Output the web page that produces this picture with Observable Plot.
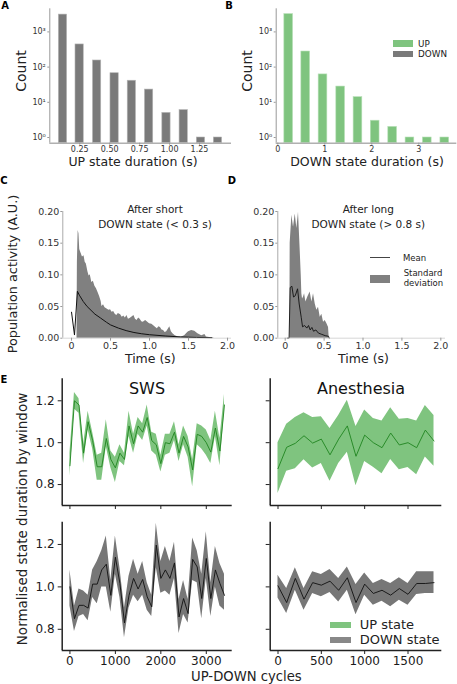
<!DOCTYPE html>
<html><head><meta charset="utf-8">
<script src="https://cdn.jsdelivr.net/npm/d3@7"></script>
<script src="https://cdn.jsdelivr.net/npm/@observablehq/plot@0.6"></script>
<style>
html,body{margin:0;padding:0;background:#fff;}
#fig{position:relative;width:457px;height:684px;overflow:hidden;font-family:"DejaVu Sans",sans-serif;color:#222;background:#fff;}
#fig svg{position:absolute;left:0;top:0;}
.t{position:absolute;white-space:nowrap;line-height:1;}
.sw{position:absolute;}
</style></head><body><div id="fig"></div>
<script>
// ---------- DATA ----------
// Panel A: UP state duration histogram (log counts)
const aBinCenters = [0.110, 0.249, 0.395, 0.541, 0.685, 0.829, 0.974, 1.118, 1.262, 1.404];
const aCounts = [3100, 440, 154, 67, 41, 23, 5, 6, 1, 1];
const aXTicks = [0.25, 0.5, 0.75, 1.0, 1.25];
// Panel B: DOWN state duration histogram
const bBinCenters = [0.232, 0.594, 0.962, 1.338, 1.706, 2.072, 2.444, 2.812, 3.181, 3.553];
const bCounts = [3200, 277, 62, 28, 14, 3, 2, 1, 1, 1];
const bXTicks = [0, 1, 2, 3];
const logTicks = [1, 10, 100, 1000];
// Panel C: after short DOWN state
const cMeanT = [0.0, 0.038, 0.075, 0.1, 0.15, 0.2, 0.25, 0.3, 0.37, 0.45, 0.5, 0.6, 0.7, 0.8, 0.9, 1.0, 1.2, 1.4, 1.6, 1.8];
const cMeanV = [0.041, 0.005, 0.074, 0.068, 0.058, 0.050, 0.044, 0.038, 0.032, 0.025, 0.021, 0.016, 0.012, 0.009, 0.007, 0.0055, 0.0035, 0.002, 0.0012, 0.0008];
const cUpperT = [0.07, 0.075, 0.085, 0.095, 0.105, 0.12, 0.14, 0.16, 0.175, 0.19, 0.21, 0.225, 0.24, 0.26, 0.28, 0.3, 0.32, 0.34, 0.36, 0.38, 0.39, 0.41, 0.43, 0.455, 0.48, 0.5, 0.52, 0.54, 0.56, 0.58, 0.6, 0.63, 0.65, 0.67, 0.69, 0.71, 0.73, 0.75, 0.78, 0.8, 0.82, 0.84, 0.86, 0.88, 0.9, 0.92, 0.95, 0.97, 1.0, 1.03, 1.05, 1.08, 1.1, 1.12, 1.14, 1.16, 1.18, 1.2, 1.22, 1.24, 1.26, 1.28, 1.3, 1.33, 1.37, 1.41, 1.45, 1.48, 1.5, 1.54, 1.58, 1.62, 1.67, 1.71, 1.73, 1.77, 1.84];
const cUpperV = [0, 0.12, 0.17, 0.165, 0.14, 0.135, 0.128, 0.13, 0.12, 0.117, 0.105, 0.098, 0.1, 0.088, 0.09, 0.082, 0.078, 0.072, 0.066, 0.058, 0.05, 0.053, 0.048, 0.046, 0.044, 0.045, 0.041, 0.042, 0.038, 0.036, 0.039, 0.037, 0.033, 0.035, 0.032, 0.036, 0.03, 0.031, 0.034, 0.036, 0.03, 0.028, 0.032, 0.03, 0.026, 0.025, 0.028, 0.026, 0.023, 0.022, 0.02, 0.017, 0.015, 0.018, 0.017, 0.013, 0.012, 0.009, 0.01, 0.014, 0.018, 0.01, 0.007, 0.004, 0.002, 0.002, 0.004, 0.008, 0.01, 0.012, 0.011, 0.007, 0.004, 0.006, 0.002, 0.001, 0];
// Panel D: after long DOWN state
const dMeanT = [0.026, 0.05, 0.064, 0.086, 0.107, 0.129, 0.159, 0.18, 0.206, 0.223, 0.249, 0.278, 0.3, 0.321, 0.343, 0.364, 0.394, 0.428, 0.471, 0.514, 0.557, 0.566];
const dMeanV = [0, 0, 0.08, 0.082, 0.065, 0.067, 0.078, 0.054, 0.033, 0.018, 0.02, 0.016, 0.02, 0.013, 0.017, 0.011, 0.013, 0.008, 0.006, 0.004, 0.003, 0];
const dUpperT = [0.06, 0.064, 0.086, 0.107, 0.129, 0.15, 0.171, 0.193, 0.206, 0.214, 0.223, 0.236, 0.249, 0.266, 0.291, 0.321, 0.343, 0.364, 0.386, 0.407, 0.428, 0.45, 0.471, 0.493, 0.514, 0.536, 0.557, 0.566];
const dUpperV = [0, 0.15, 0.194, 0.175, 0.196, 0.173, 0.199, 0.138, 0.1, 0.07, 0.062, 0.065, 0.07, 0.057, 0.065, 0.073, 0.057, 0.07, 0.054, 0.044, 0.049, 0.033, 0.038, 0.025, 0.028, 0.023, 0.017, 0];
const cdXTicks = [0, 0.5, 1, 1.5, 2];
const cdYTicks = [0, 0.05, 0.1, 0.15, 0.2];
// Panel E: normalised state duration by window
const swsCycles = [0,100,200,300,400,500,600,700,800,900,1000,1100,1200,1300,1400,1500,1600,1700,1800,1900,2000,2100,2200,2300,2400,2500,2600,2700,2800,2900,3000,3100,3200,3300,3400];
const swsUpMean = [0.89, 1.20, 1.18, 0.95, 1.10, 1.01, 0.885, 0.885, 1.02, 0.92, 0.88, 0.95, 0.92, 1.08, 0.995, 1.08, 1.05, 1.12, 1.01, 0.99, 0.90, 1.00, 0.995, 1.05, 0.95, 1.03, 0.98, 0.87, 1.04, 1.03, 1.00, 0.955, 1.07, 0.96, 1.18];
const swsUpLow = [0.84, 1.16, 1.14, 0.90, 1.06, 0.97, 0.82, 0.82, 0.98, 0.88, 0.81, 0.91, 0.89, 1.03, 0.95, 1.04, 1.01, 1.08, 0.96, 0.94, 0.86, 0.94, 0.95, 1.01, 0.91, 0.99, 0.93, 0.79, 0.99, 0.97, 0.94, 0.90, 1.03, 0.89, 1.15];
const swsUpHigh = [0.95, 1.24, 1.21, 0.99, 1.15, 1.05, 0.94, 0.95, 1.11, 0.96, 0.93, 0.99, 0.95, 1.15, 1.04, 1.12, 1.09, 1.18, 1.05, 1.04, 0.94, 1.04, 1.04, 1.10, 0.99, 1.08, 1.03, 0.92, 1.09, 1.08, 1.06, 1.01, 1.15, 1.02, 1.23];
const swsDownMean = [1.0, 0.85, 0.913, 0.913, 0.90, 1.013, 1.013, 1.08, 1.107, 0.96, 1.14, 1.016, 0.83, 0.96, 1.04, 0.99, 1.035, 0.953, 0.906, 1.197, 1.04, 1.08, 1.04, 1.113, 0.858, 0.945, 0.874, 1.13, 1.094, 0.945, 1.134, 0.945, 1.08, 1.016, 0.96];
const swsDownLow = [0.91, 0.79, 0.86, 0.87, 0.84, 0.95, 0.92, 1.00, 1.00, 0.88, 1.06, 0.95, 0.76, 0.90, 0.96, 0.93, 0.96, 0.89, 0.86, 1.09, 0.97, 0.98, 0.96, 1.04, 0.78, 0.87, 0.83, 1.03, 1.02, 0.85, 1.04, 0.86, 1.0, 0.91, 0.89];
const swsDownHigh = [1.08, 0.91, 0.99, 0.98, 0.96, 1.08, 1.12, 1.17, 1.24, 1.03, 1.24, 1.09, 0.90, 1.05, 1.13, 1.06, 1.12, 1.02, 0.96, 1.30, 1.12, 1.19, 1.12, 1.21, 0.94, 1.03, 0.94, 1.23, 1.17, 1.06, 1.26, 1.02, 1.19, 1.11, 1.06];
const anCycles = [0,100,200,300,400,500,600,700,800,900,1000,1100,1200,1300,1400,1500,1600,1700,1800];
const anUpMean = [0.876, 0.978, 0.997, 1.033, 0.998, 1.017, 0.942, 1.017, 1.08, 0.935, 1.036, 1.0, 0.976, 1.046, 0.989, 1.0, 0.976, 1.06, 1.008];
const anUpHigh = [1.0, 1.088, 1.12, 1.143, 1.12, 1.124, 1.068, 1.13, 1.203, 1.077, 1.156, 1.115, 1.104, 1.167, 1.112, 1.115, 1.104, 1.178, 1.13];
const anUpLow = [0.757, 0.863, 0.876, 0.918, 0.879, 0.9, 0.816, 0.9, 0.954, 0.794, 0.91, 0.883, 0.852, 0.92, 0.871, 0.882, 0.847, 0.931, 0.888];
const anDownMean = [1.005, 0.926, 1.04, 0.942, 1.02, 1.008, 1.027, 0.984, 1.043, 0.926, 1.013, 0.969, 0.984, 0.961, 0.992, 0.965, 1.016, 1.016, 1.02];
const anDownHigh = [1.055, 0.992, 1.09, 0.992, 1.071, 1.058, 1.082, 1.04, 1.094, 1.011, 1.066, 1.016, 1.035, 1.016, 1.043, 1.016, 1.071, 1.071, 1.071];
const anDownLow = [0.948, 0.874, 0.984, 0.89, 0.969, 0.953, 0.973, 0.929, 0.984, 0.869, 0.961, 0.913, 0.932, 0.906, 0.937, 0.913, 0.964, 0.969, 0.969];
const swsXTicks = [0, 1000, 2000, 3000];
const anXTicks = [0, 500, 1000, 1500];
const eYTicks = [0.8, 1.0, 1.2];

// ---------- STYLE ----------
const W = 457, H = 684;
const GREEN = "#7fc47f", GREY = "#7a7a7a", GREEN_LINE = "#1f841f";
const aBarW = 0.069, bBarW = 0.185;
const logDomain = [0.689, 4530];
const aXDomain = [0, 1.517], bXDomain = [-0.034, 3.809];
const cXDomain = [-0.112, 2.051], dXDomain = [-0.095, 2.06], cdYDomain = [0, 0.2];
const swsXDomain = [-170, 3570], anXDomain = [-90, 1890], eYDomain = [0.7, 1.305];

const fig = document.getElementById("fig");
function addPlot(p) {
  const svg = Plot.plot({
    width: W, height: H,
    marginLeft: p.left, marginRight: W - p.right, marginTop: p.top, marginBottom: H - p.bottom,
    style: {background: "transparent", fontFamily: "DejaVu Sans", fontSize: "10px", color: "#222", overflow: "visible"},
    x: {domain: p.xDomain, type: "linear"},
    y: {domain: p.yDomain, type: p.yType || "linear"},
    marks: p.marks
  });
  fig.appendChild(svg);
}
function txt(s, x, y, o = {}) {
  const {size = 10, anchor = "middle", rotate = 0, weight = "normal", color = "#222"} = o;
  const d = document.createElement("div");
  d.className = "t"; d.textContent = s;
  d.style.left = x + "px"; d.style.top = y + "px";
  d.style.fontSize = size + "px"; d.style.fontWeight = weight; d.style.color = color;
  const tx = anchor === "middle" ? "-50%" : anchor === "end" ? "-100%" : "0";
  d.style.transform = `translate(${tx},-50%)` + (rotate ? ` rotate(${rotate}deg)` : "");
  fig.appendChild(d);
}
function swatch(x1, y1, x2, y2, color) {
  const d = document.createElement("div");
  d.className = "sw";
  d.style.left = x1 + "px"; d.style.top = y1 + "px";
  d.style.width = (x2 - x1) + "px"; d.style.height = (y2 - y1) + "px";
  d.style.background = color;
  fig.appendChild(d);
}
const sup = {"0": "⁰", "1": "¹", "2": "²", "3": "³"};
const logFmt = d => "10" + sup[String(Math.round(Math.log10(d)))];

// ---------- PANEL A ----------
const aData = aBinCenters.map((c, i) => ({c, n: aCounts[i]}));
addPlot({
  left: 49.3, right: 231, top: 8.3, bottom: 142.7,
  xDomain: aXDomain, yDomain: logDomain, yType: "log",
  marks: [
    Plot.rect(aData, {x1: d => d.c - aBarW / 2, x2: d => d.c + aBarW / 2, y1: () => logDomain[0], y2: "n", fill: GREY, stroke: "#b5b5b5", strokeWidth: 0.6}),
    Plot.ruleX([aXDomain[0]], {stroke: "#999", strokeWidth: 1}),
    Plot.ruleY([logDomain[0]], {stroke: "#b0b0b0", strokeWidth: 1.5}),
    Plot.axisX({ticks: aXTicks, tickFormat: d3.format(".2f"), tickSize: 2, tickPadding: 0.8, stroke: "#999", fill: "#333", fontSize: 8, label: null}),
    Plot.axisY({ticks: logTicks, tickFormat: logFmt, tickSize: 2, tickPadding: 2, stroke: "#999", fill: "#333", fontSize: 8, label: null})
  ]
});

// ---------- PANEL B ----------
const bData = bBinCenters.map((c, i) => ({c, n: bCounts[i]}));
addPlot({
  left: 275.7, right: 456.3, top: 8.3, bottom: 142.7,
  xDomain: bXDomain, yDomain: logDomain, yType: "log",
  marks: [
    Plot.rect(bData, {x1: d => d.c - bBarW / 2, x2: d => d.c + bBarW / 2, y1: () => logDomain[0], y2: "n", fill: GREEN, stroke: "#b8e0b8", strokeWidth: 0.6}),
    Plot.ruleX([bXDomain[0]], {stroke: "#999", strokeWidth: 1}),
    Plot.ruleY([logDomain[0]], {stroke: "#b0b0b0", strokeWidth: 1.5}),
    Plot.axisX({ticks: bXTicks, tickFormat: d3.format("d"), tickSize: 2, tickPadding: 0.8, stroke: "#999", fill: "#333", fontSize: 8, label: null}),
    Plot.axisY({ticks: logTicks, tickFormat: logFmt, tickSize: 2, tickPadding: 2, stroke: "#999", fill: "#333", fontSize: 8, label: null})
  ]
});

// ---------- PANEL C ----------
const cdFmt = d => d === 0 ? "0" : d.toFixed(1);
const cMean = cMeanT.map((t, i) => ({t, v: cMeanV[i]}));
const cUpper = cUpperT.map((t, i) => ({t, v: cUpperV[i]}));
addPlot({
  left: 62.3, right: 231, top: 211, bottom: 337.7,
  xDomain: cXDomain, yDomain: cdYDomain,
  marks: [
    Plot.areaY(cUpper, {x: "t", y: "v", fill: "#808080"}),
    Plot.line(cMean, {x: "t", y: "v", stroke: "#111", strokeWidth: 1}),
    Plot.ruleX([cXDomain[0]], {stroke: "#aaa", strokeWidth: 1}),
    Plot.ruleY([cdYDomain[0]], {stroke: "#ccc", strokeWidth: 0.8}),
    Plot.axisX({ticks: cdXTicks, tickFormat: cdFmt, tickSize: 3, tickPadding: 1.5, stroke: "#999", fill: "#333", fontSize: 9.5, label: null}),
    Plot.axisY({ticks: cdYTicks, tickFormat: d3.format(".2f"), tickSize: 2, tickPadding: 1.5, stroke: "#999", fill: "#333", fontSize: 9.5, label: null})
  ]
});

// ---------- PANEL D ----------
const dMean = dMeanT.map((t, i) => ({t, v: dMeanV[i]}));
const dUpper = dUpperT.map((t, i) => ({t, v: dUpperV[i]}));
addPlot({
  left: 277.3, right: 445, top: 211, bottom: 337.7,
  xDomain: dXDomain, yDomain: cdYDomain,
  marks: [
    Plot.areaY(dUpper, {x: "t", y: "v", fill: "#808080"}),
    Plot.line(dMean, {x: "t", y: "v", stroke: "#111", strokeWidth: 0.9}),
    Plot.ruleX([dXDomain[0]], {stroke: "#aaa", strokeWidth: 1}),
    Plot.ruleY([cdYDomain[0]], {stroke: "#ccc", strokeWidth: 0.8}),
    Plot.axisX({ticks: cdXTicks, tickFormat: cdFmt, tickSize: 3, tickPadding: 1.5, stroke: "#999", fill: "#333", fontSize: 9.5, label: null}),
    Plot.axisY({ticks: cdYTicks, tickFormat: d3.format(".2f"), tickSize: 2, tickPadding: 1.5, stroke: "#999", fill: "#333", fontSize: 9.5, label: null})
  ]
});

// ---------- PANEL E ----------
function ePanel({left, right, top, bottom, xDomain, xTicks, cycles, mean, low, high, fillC, lineC, xLabels, yLabels}) {
  const data = cycles.map((c, i) => ({c, m: mean[i], lo: low[i], hi: high[i]}));
  addPlot({
    left, right, top, bottom, xDomain, yDomain: eYDomain,
    marks: [
      Plot.areaY(data, {x: "c", y1: "lo", y2: "hi", fill: fillC}),
      Plot.line(data, {x: "c", y: "m", stroke: lineC, strokeWidth: 0.9}),
      Plot.ruleX([xDomain[0]], {stroke: "#222", strokeWidth: 1.5}),
      Plot.ruleY([eYDomain[0]], {stroke: "#222", strokeWidth: 1.5}),
      Plot.axisX({ticks: xTicks, tickFormat: xLabels ? d3.format("d") : () => "", tickSize: 4, tickPadding: 2, stroke: "#222", fill: xLabels ? "#1a1a1a" : "none", fontSize: 12, label: null}),
      Plot.axisY({ticks: eYTicks, tickFormat: yLabels ? d3.format(".1f") : () => "", tickSize: 4, tickPadding: 3.5, stroke: "#222", fill: yLabels ? "#1a1a1a" : "none", fontSize: 12, label: null})
    ]
  });
}
ePanel({left: 61.7, right: 231.7, top: 378.3, bottom: 505, xDomain: swsXDomain, xTicks: swsXTicks, cycles: swsCycles, mean: swsUpMean, low: swsUpLow, high: swsUpHigh, fillC: GREEN, lineC: GREEN_LINE, xLabels: false, yLabels: true});
ePanel({left: 61.7, right: 231.7, top: 521.7, bottom: 650, xDomain: swsXDomain, xTicks: swsXTicks, cycles: swsCycles, mean: swsDownMean, low: swsDownLow, high: swsDownHigh, fillC: "#777", lineC: "#111", xLabels: true, yLabels: true});
ePanel({left: 269.7, right: 441.3, top: 378.3, bottom: 505, xDomain: anXDomain, xTicks: anXTicks, cycles: anCycles, mean: anUpMean, low: anUpLow, high: anUpHigh, fillC: GREEN, lineC: GREEN_LINE, xLabels: false, yLabels: false});
ePanel({left: 269.7, right: 441.3, top: 521.7, bottom: 650, xDomain: anXDomain, xTicks: anXTicks, cycles: anCycles, mean: anDownMean, low: anDownLow, high: anDownHigh, fillC: "#777", lineC: "#111", xLabels: true, yLabels: false});

// ---------- TEXT, LEGENDS ----------
txt("A", 5, 6, {size: 10, weight: "bold", color: "#000"});
txt("B", 229, 6, {size: 10, weight: "bold", color: "#000"});
txt("C", 4, 181, {size: 10, weight: "bold", color: "#000"});
txt("D", 232, 181, {size: 10, weight: "bold", color: "#000"});
txt("E", 4, 380, {size: 10, weight: "bold", color: "#000"});

txt("Count", 21, 71, {size: 14, rotate: -90});
txt("Count", 246.5, 71, {size: 14, rotate: -90});
txt("UP state duration (s)", 133, 161.5, {size: 12.5});
txt("DOWN state duration (s)", 367, 161.5, {size: 12.5});
swatch(393, 40, 413, 46.7, GREEN);
swatch(393, 50.7, 413, 57.3, GREY);
txt("UP", 418, 43.5, {size: 8.8, anchor: "start"});
txt("DOWN", 418, 54, {size: 8.8, anchor: "start"});

txt("Population activity (A.U.)", 12.5, 274, {size: 12.8, rotate: -90});
txt("After short", 155, 208.8, {size: 10.5});
txt("DOWN state (< 0.3 s)", 155, 223.5, {size: 10.5});
txt("After long", 368.3, 208.8, {size: 10.5});
txt("DOWN state (> 0.8 s)", 368.3, 223.5, {size: 10.5});
txt("Time (s)", 150.3, 359, {size: 12.5});
txt("Time (s)", 363.5, 359, {size: 12.5});
swatch(369.7, 257.2, 389.7, 258.2, "#444");
txt("Mean", 403, 257.7, {size: 8.5, anchor: "start"});
swatch(369.7, 275, 389.7, 283.3, "#808080");
txt("Standard", 403.7, 272.7, {size: 8.5, anchor: "start"});
txt("deviation", 403.7, 283.3, {size: 8.5, anchor: "start"});

txt("SWS", 147, 388.7, {size: 16, color: "#111"});
txt("Anesthesia", 361, 388.5, {size: 16, color: "#111"});
txt("Normalised state duration by window", 22.5, 518.5, {size: 13.5, rotate: -90});
txt("UP-DOWN cycles", 246.4, 676.5, {size: 13.2});
swatch(329.7, 621.7, 351.3, 628.3, GREEN);
swatch(329.7, 636.7, 351.3, 643.3, "#888");
txt("UP state", 359.7, 624.2, {size: 13, anchor: "start"});
txt("DOWN state", 359.7, 639.2, {size: 13, anchor: "start"});
</script></body></html>
